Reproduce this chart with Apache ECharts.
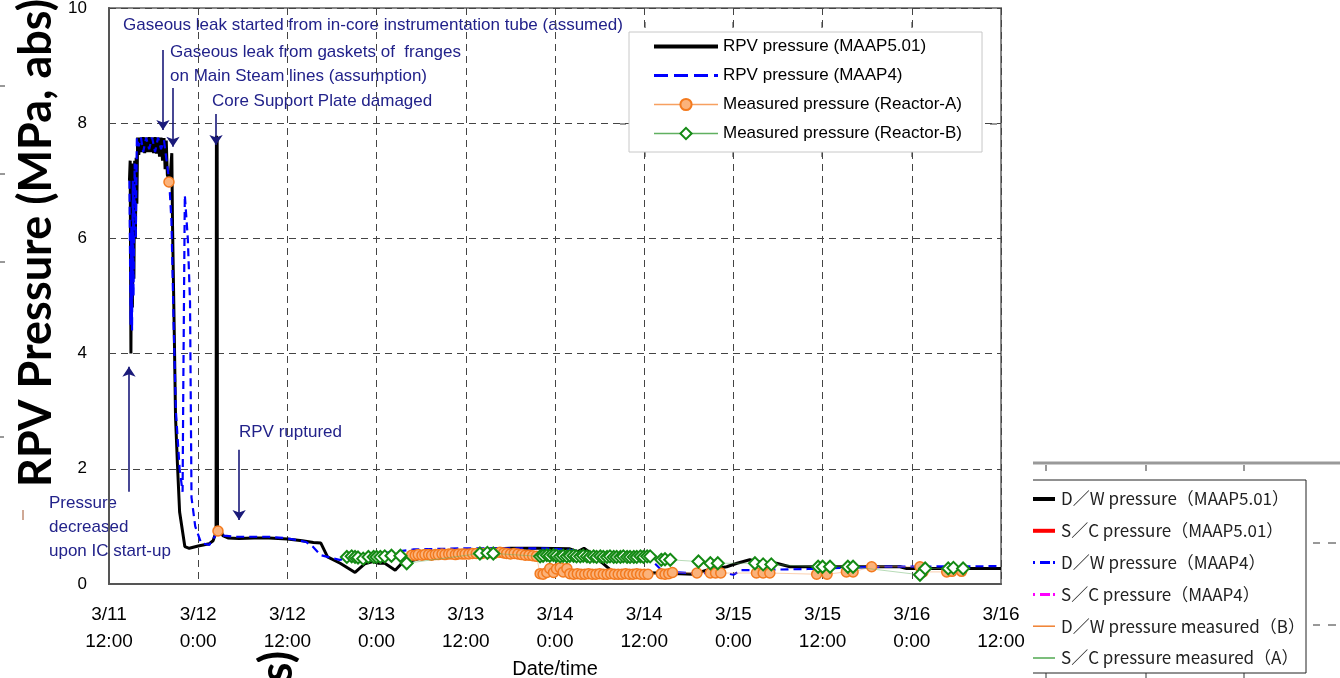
<!DOCTYPE html>
<html>
<head>
<meta charset="utf-8">
<script src="https://cdn.jsdelivr.net/npm/echarts@6/dist/echarts.min.js"></script>
<style>
  html, body { margin: 0; padding: 0; background: #fff; }
  #chart { width: 1340px; height: 678px; }
</style>
</head>
<body>
<div id="chart"></div>
<script>
// hours counted from 3/11 12:00
const tickLabels = ['3/11\n12:00', '3/12\n0:00', '3/12\n12:00', '3/13\n0:00', '3/13\n12:00',
  '3/14\n0:00', '3/14\n12:00', '3/15\n0:00', '3/15\n12:00', '3/16\n0:00', '3/16\n12:00']
const yTicks = [0, 2, 4, 6, 8, 10]

// RPV pressure (MAAP5.01) [hour, MPa]
const maap501 = [
  [2.75, 7.0], [2.85, 7.35], [2.95, 4.0], [3.05, 7.2], [3.15, 4.8], [3.25, 7.3], [3.35, 5.3], [3.45, 7.35],
  [3.55, 6.0], [3.65, 7.4], [3.75, 6.6], [3.85, 7.75], [4.0, 7.45], [4.2, 7.75], [4.4, 7.5], [4.6, 7.76],
  [4.8, 7.48], [5.0, 7.75], [5.2, 7.5], [5.4, 7.76], [5.6, 7.5], [5.8, 7.75], [6.0, 7.48], [6.2, 7.76],
  [6.4, 7.47], [6.6, 7.75], [6.8, 7.42], [7.0, 7.75], [7.2, 7.35], [7.4, 7.74], [7.55, 7.2], [7.7, 7.7],
  [7.85, 7.1], [8.0, 7.05], [8.2, 7.0], [8.35, 7.3], [8.45, 7.48], [8.55, 6.2], [8.7, 5.0], [8.8, 4.2],
  [8.95, 2.9], [9.2, 2.1], [9.5, 1.25], [10.2, 0.65], [10.8, 0.62], [12.0, 0.66], [13.5, 0.7], [14.0, 0.75],
  [14.4, 0.9], [14.45, 7.78], [14.55, 7.7], [14.6, 1.0], [14.7, 0.85], [15.0, 0.95], [15.3, 0.84], [16.0, 0.8],
  [17.5, 0.79], [19.5, 0.8], [21.5, 0.8], [24, 0.78], [26, 0.75], [27.5, 0.72], [28.5, 0.71], [29.4, 0.47],
  [31.1, 0.36], [33.1, 0.2], [34.4, 0.35], [35.5, 0.39], [36.3, 0.36], [37.1, 0.36], [38.5, 0.24], [39.4, 0.36],
  [40.5, 0.4], [42, 0.45], [44, 0.5], [47, 0.55], [50, 0.6], [54, 0.62], [57.6, 0.62], [62, 0.61],
  [63, 0.56], [63.9, 0.62], [64.8, 0.54], [67.5, 0.24], [70, 0.2], [74, 0.19], [78.6, 0.17], [80.4, 0.24],
  [83.1, 0.3], [84.5, 0.36], [86.2, 0.42], [87.1, 0.39], [89.8, 0.36], [91.6, 0.3], [96, 0.3], [106.4, 0.3],
  [107.3, 0.27], [120, 0.27]
]

// RPV pressure (MAAP4)
const maap4 = [
  [2.75, 7.0], [2.9, 4.5], [3.0, 6.2], [3.1, 4.4], [3.2, 7.0], [3.3, 5.0], [3.45, 7.3], [3.6, 6.0],
  [3.75, 7.75], [4.0, 7.6], [4.3, 7.75], [4.6, 7.5], [5.0, 7.75], [5.4, 7.55], [5.8, 7.75], [6.2, 7.5],
  [6.6, 7.75], [7.0, 7.55], [7.4, 7.7], [7.8, 7.3], [8.1, 7.0], [8.4, 6.3], [8.7, 4.5], [9.0, 3.0],
  [9.5, 2.0], [9.9, 1.6], [10.0, 3.5], [10.2, 6.75], [10.6, 6.0], [10.9, 4.9], [11.1, 1.5], [11.6, 1.0],
  [12.4, 0.71], [13.5, 0.68], [14.5, 0.88], [15.5, 0.84], [17, 0.82], [21.4, 0.82], [23.5, 0.8], [25.4, 0.76],
  [26.5, 0.73], [27.4, 0.65], [28.5, 0.5], [31.0, 0.42], [35, 0.49], [36.5, 0.53], [41, 0.6], [48, 0.62],
  [58, 0.62], [61.5, 0.6], [65.8, 0.53], [72.5, 0.47], [73.4, 0.36], [74.5, 0.22], [78, 0.19], [83, 0.19],
  [84.0, 0.16], [85, 0.24], [94, 0.26], [104, 0.30], [120, 0.31]
]

// Measured pressure (Reactor-A); '-' marks a break in the connecting line
const measuredA = [
  [8.07, 6.98], [11, '-'], [14.66, 0.92], [20, '-'],
  [40.7, 0.5], [41.2, 0.5], [41.6, 0.51], [42.1, 0.5], [42.5, 0.51], [43.0, 0.51], [43.4, 0.5], [43.9, 0.51],
  [44.3, 0.51], [44.8, 0.52], [45.2, 0.51], [45.7, 0.52], [46.1, 0.52], [46.6, 0.51], [47.0, 0.52], [47.5, 0.52],
  [47.9, 0.52], [48.4, 0.52], [48.9, 0.53], [49.4, 0.53], [50.2, 0.53], [51.0, 0.54], [51.8, 0.53], [52.6, 0.55],
  [53.1, 0.54], [53.5, 0.53], [54.0, 0.52], [54.5, 0.53], [55.0, 0.52], [55.5, 0.51], [56.0, 0.5], [56.5, 0.5],
  [57.0, 0.49], [57.5, 0.48],
  [58.0, 0.18], [58.4, 0.17], [58.9, 0.2], [59.3, 0.27], [59.8, 0.2], [60.2, 0.26], [60.7, 0.28], [61.1, 0.21],
  [61.6, 0.27], [62.0, 0.18], [62.5, 0.17], [63.0, 0.18], [63.5, 0.17], [64.0, 0.17], [64.5, 0.18], [65.0, 0.17],
  [65.5, 0.17], [66.0, 0.18], [66.5, 0.17], [67.0, 0.17], [67.5, 0.18], [68.0, 0.17], [68.5, 0.17], [69.0, 0.17],
  [69.5, 0.18], [70.0, 0.17], [70.5, 0.17], [71.0, 0.18], [71.5, 0.17], [72.0, 0.17], [72.5, 0.17],
  [74.3, 0.18], [74.8, 0.17], [75.3, 0.18], [75.8, 0.2],
  [79.1, 0.19], [80.9, 0.19], [81.6, 0.19], [82.3, 0.19], [87.1, 0.19], [88.0, 0.19], [88.9, 0.19],
  [95.2, 0.17], [96.6, 0.17], [99.2, 0.21], [100.1, 0.21], [102.6, 0.3], [109.1, 0.3], [109.5, 0.21],
  [112.7, 0.21], [113.4, 0.22], [114.7, 0.22]
]

// Measured pressure (Reactor-B)
const measuredB = [
  [32.0, 0.47], [32.65, 0.48], [33.1, 0.47], [33.5, 0.46], [34.2, 0.44], [34.9, 0.47], [35.6, 0.47], [36.0, 0.47],
  [36.5, 0.47], [37.1, 0.48], [38.0, 0.49], [39.2, 0.49], [40.05, 0.36],
  [49.9, 0.53], [50.9, 0.54], [51.7, 0.53],
  [58.0, 0.48], [58.4, 0.49], [58.9, 0.5], [59.3, 0.49], [59.8, 0.5], [60.2, 0.49], [60.7, 0.48], [61.1, 0.49],
  [61.6, 0.48], [62.0, 0.49], [62.5, 0.49], [62.9, 0.48], [63.4, 0.48], [63.8, 0.49], [64.3, 0.48], [64.7, 0.47],
  [65.2, 0.48], [65.6, 0.47], [66.1, 0.48], [66.5, 0.47], [67.0, 0.47], [67.4, 0.48], [67.9, 0.47], [68.3, 0.47],
  [68.8, 0.47], [69.2, 0.48], [69.7, 0.47], [70.1, 0.47], [70.6, 0.47], [71.0, 0.47], [71.5, 0.48], [71.9, 0.47],
  [72.4, 0.48], [72.8, 0.48],
  [74.3, 0.42], [74.8, 0.43], [75.5, 0.42],
  [79.3, 0.39], [80.9, 0.36], [81.9, 0.36], [86.9, 0.36], [88.0, 0.34], [89.1, 0.34], [95.4, 0.3], [96.0, 0.3],
  [97.0, 0.3], [99.4, 0.3], [100.1, 0.3], [109.1, 0.16], [109.8, 0.27], [112.9, 0.27], [113.6, 0.28], [114.9, 0.27]
]

// annotation arrows [from, to] in [hour, MPa]
const arrows = [
  [[7.26, 9.27], [7.26, 7.88]],
  [[8.61, 8.61], [8.61, 7.59]],
  [[14.4, 8.16], [14.4, 7.62]],
  [[17.5, 2.33], [17.5, 1.11]],
  [[2.69, 1.6], [2.69, 3.77]]
]

const notes = [
  { text: 'Gaseous leak started from in-core instrumentation tube (assumed)', x: 123, y: 25 },
  { text: 'Gaseous leak from gaskets of  franges', x: 170, y: 52 },
  { text: 'on Main Steam lines (assumption)', x: 170, y: 76 },
  { text: 'Core Support Plate damaged', x: 212, y: 101 },
  { text: 'RPV ruptured', x: 239, y: 432 },
  { text: 'Pressure', x: 49, y: 503 },
  { text: 'decreased', x: 49, y: 527 },
  { text: 'upon IC start-up', x: 49, y: 551 }
]

// second (overlapping) legend in the lower right
const legend2 = [
  { name: 'D／W pressure（MAAP5.01）', color: '#000', width: 4, dash: null },
  { name: 'S／C pressure（MAAP5.01）', color: '#ff0000', width: 4, dash: null },
  { name: 'D／W pressure（MAAP4）', color: '#0000ff', width: 3, dash: [2, 5, 10, 3] },
  { name: 'S／C pressure（MAAP4）', color: '#ff00ff', width: 3, dash: [2, 5, 10, 3] },
  { name: 'D／W pressure measured（B）', color: '#f08030', width: 1.5, dash: null },
  { name: 'S／C pressure measured（A）', color: '#50a850', width: 1.5, dash: null }
]

const navy = '#22228a'
const font = 'Liberation Sans, Arial, sans-serif'

const graphics = []
notes.forEach(n => {
  graphics.push({
    type: 'text', x: n.x, y: n.y, silent: true,
    style: { text: n.text, fill: navy, fontSize: 17, fontFamily: font, verticalAlign: 'middle' }
  })
})
// big rotated axis title overlay
graphics.push({
  type: 'text', x: 36, y: 243, rotation: Math.PI / 2, silent: true,
  style: { text: 'RPV Pressure (MPa, abs)', fill: '#000', fontSize: 45, fontWeight: 'bold',
    fontFamily: 'Lato, Open Sans, sans-serif', align: 'center', verticalAlign: 'middle' }
})
graphics.push({
  type: 'text', x: 277, y: 651, rotation: Math.PI / 2, silent: true,
  style: { text: '(MPa, abs)', fill: '#000', fontSize: 45, fontWeight: 'bold',
    fontFamily: 'Lato, Open Sans, sans-serif', align: 'right', verticalAlign: 'middle' }
})
// stray tick marks from the overlapping figures
const stray = [
  [0, 86, 5, 86], [0, 174, 5, 174], [0, 262, 5, 262], [0, 437, 4, 437],
  [620, 124, 626, 124], [990, 124, 997, 124],
  [645, 22, 645, 28], [733, 22, 733, 28], [822, 22, 822, 28], [912, 22, 912, 28],
  [645, 152, 645, 157], [733, 152, 733, 157], [822, 152, 822, 157], [912, 152, 912, 157],
  [1046, 465, 1046, 471], [1146, 465, 1146, 471], [1244, 465, 1244, 471],
  [1046, 673, 1046, 678], [1146, 673, 1146, 678], [1244, 673, 1244, 678],
  [1313, 543, 1320, 543], [1328, 543, 1336, 543], [1313, 625, 1320, 625], [1328, 625, 1336, 625]
]
stray.forEach(s => {
  graphics.push({ type: 'line', silent: true, shape: { x1: s[0], y1: s[1], x2: s[2], y2: s[3] },
    style: { stroke: '#333', lineWidth: 1 } })
})
graphics.push({ type: 'line', silent: true, shape: { x1: 23, y1: 510, x2: 23, y2: 520 },
  style: { stroke: '#a0522d', lineWidth: 1 } })
graphics.push({ type: 'line', silent: true, shape: { x1: 1033, y1: 463, x2: 1340, y2: 463 },
  style: { stroke: '#999', lineWidth: 3 } })
graphics.push({ type: 'polyline', silent: true,
  shape: { points: [[1033, 480], [1306, 480], [1306, 673], [1033, 673]] },
  style: { stroke: '#222', lineWidth: 1, fill: null } })
legend2.forEach((item, i) => {
  const y = 499 + i * 31.8
  graphics.push({ type: 'line', silent: true, shape: { x1: 1033, y1: y, x2: 1055, y2: y },
    style: { stroke: item.color, lineWidth: item.width, lineDash: item.dash } })
  graphics.push({ type: 'text', silent: true, x: 1061, y: y,
    style: { text: item.name, fill: '#222', fontSize: 17, fontFamily: 'Noto Sans CJK JP, sans-serif',
      verticalAlign: 'middle' } })
})

const chart = echarts.init(document.getElementById('chart'))

const option = {
  animation: false,
  backgroundColor: '#fff',
  grid: {
    left: 109, right: 339, top: 8, bottom: 94,
    outerBoundsMode: 'none', containLabel: false,
    show: true, borderColor: '#888', borderWidth: 2, backgroundColor: 'transparent'
  },
  legend: {
    orient: 'vertical',
    left: 629, top: 32,
    padding: [6, 20, 10, 23],
    itemWidth: 64, itemHeight: 14, itemGap: 12,
    backgroundColor: '#fff',
    borderColor: '#c8c8c8', borderWidth: 1,
    textStyle: { fontSize: 17, color: '#000', fontFamily: font, lineHeight: 14 },
    data: [
      { name: 'RPV pressure (MAAP5.01)', itemStyle: { opacity: 0 }, lineStyle: { width: 4 } },
      { name: 'RPV pressure (MAAP4)', itemStyle: { opacity: 0 }, lineStyle: { width: 3, type: [14, 6] } },
      { name: 'Measured pressure (Reactor-A)', lineStyle: { width: 1.5, opacity: 1 } },
      { name: 'Measured pressure (Reactor-B)', lineStyle: { width: 1.5, opacity: 1 } }
    ]
  },
  xAxis: {
    type: 'value', min: 0, max: 120, interval: 12,
    name: 'Date/time', nameLocation: 'middle', nameGap: 74,
    nameTextStyle: { fontSize: 20, color: '#000', fontFamily: font },
    axisLine: { lineStyle: { color: '#555', width: 2 } },
    axisTick: { show: false },
    axisLabel: {
      formatter: v => tickLabels[Math.round(v / 12)],
      fontSize: 19, color: '#000', fontFamily: font, lineHeight: 27, margin: 17,
      showMinLabel: true, showMaxLabel: true
    },
    splitLine: { show: true, lineStyle: { color: '#444', type: [7, 5], width: 1 } }
  },
  yAxis: {
    type: 'value', min: 0, max: 10, interval: 2,
    axisLine: { show: true, lineStyle: { color: '#555', width: 2 } },
    axisTick: { show: false },
    axisLabel: {
      formatter: v => (yTicks.indexOf(v) >= 0 ? String(v) : ''),
      fontSize: 17, color: '#000', fontFamily: font, margin: 22
    },
    splitLine: { show: true, lineStyle: { color: '#444', type: [7, 5], width: 1 } }
  },
  series: [
    {
      name: 'RPV pressure (MAAP5.01)', type: 'line', data: maap501,
      symbol: 'none', lineStyle: { color: '#000', width: 3 }, itemStyle: { color: '#000' },
      z: 2,
      markLine: {
        silent: true, symbol: ['none', 'arrow'], symbolSize: 10, animation: false,
        label: { show: false },
        lineStyle: { color: '#1a1a7a', width: 1.6, type: 'solid' },
        itemStyle: { color: '#1a1a7a' },
        data: arrows.map(a => [{ coord: a[0] }, { coord: a[1] }])
      }
    },
    {
      name: 'RPV pressure (MAAP4)', type: 'line', data: maap4,
      symbol: 'none', lineStyle: { color: '#0000ff', width: 2.2, type: [8, 5] }, itemStyle: { color: '#0000ff' },
      z: 3
    },
    {
      name: 'Measured pressure (Reactor-A)', type: 'line', data: measuredA,
      symbol: 'circle', symbolSize: 10, connectNulls: false,
      lineStyle: { color: '#f7a060', width: 1, opacity: 0.5 },
      itemStyle: { color: '#fbb27a', borderColor: '#f37a1e', borderWidth: 1.5 },
      z: 4
    },
    {
      name: 'Measured pressure (Reactor-B)', type: 'line', data: measuredB,
      symbol: 'diamond', symbolSize: 12,
      lineStyle: { color: '#60b060', width: 1, opacity: 0.45 },
      itemStyle: { color: '#ffffff', borderColor: '#148a14', borderWidth: 2 },
      z: 5
    }
  ],
  graphic: graphics
}

chart.setOption(option)
window.addEventListener('resize', () => chart.resize())
</script>
</body>
</html>
